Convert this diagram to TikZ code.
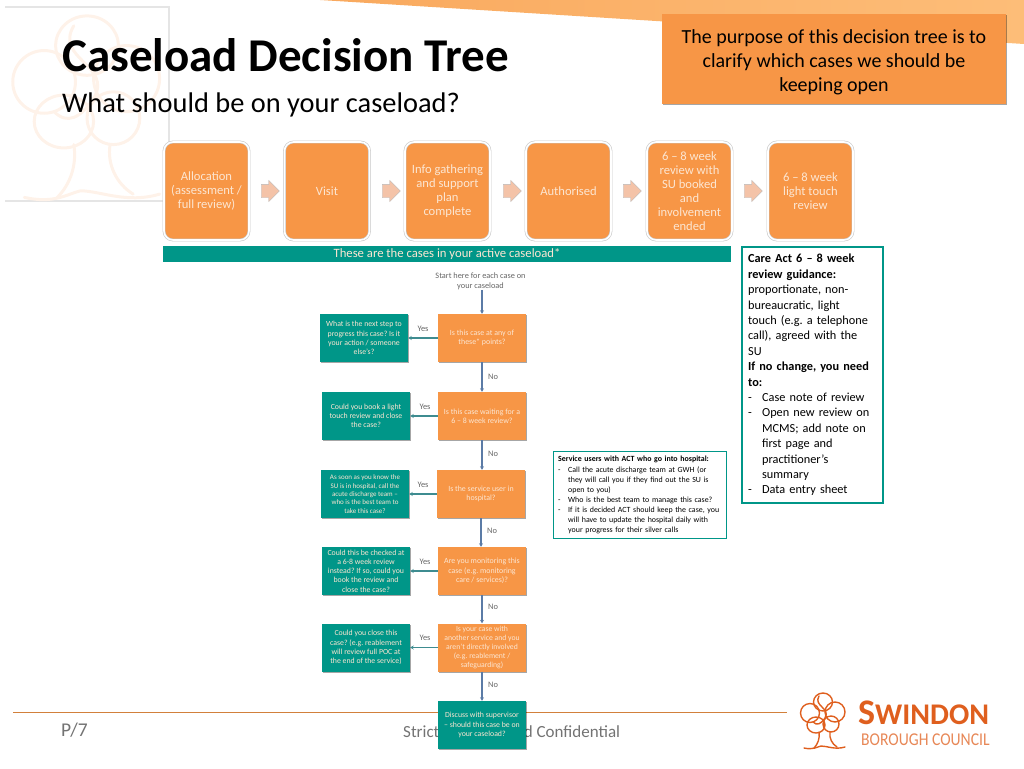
\documentclass[tikz,border=0pt]{standalone}
\usepackage{fontspec}
\setmainfont{Carlito}
\usetikzlibrary{shadows,shapes.arrows,arrows.meta}
\definecolor{caseorange}{HTML}{F79646}
\definecolor{caseteal}{HTML}{009688}
\definecolor{paletext}{HTML}{FCE6D2}
\definecolor{flowblue}{HTML}{5B7BA6}
\definecolor{flowteal}{HTML}{3E8C90}
\definecolor{logoorange}{HTML}{DF5F1E}
\definecolor{wedgeleft}{HTML}{F9A95E}
\definecolor{wedgeright}{HTML}{FDBD78}
\definecolor{stagepink}{HTML}{F4C3A8}
\tikzset{
  softshadow/.style={drop shadow={shadow xshift=1pt,shadow yshift=-1.2pt,opacity=.35,fill=black}},
  stagebox/.style={draw=black!22,line width=.6pt,double=white,double distance=1.6pt,fill=caseorange,rounded corners=9pt,minimum width=85pt,minimum height=98pt,inner sep=0pt,align=center,text=paletext,font=\fontsize{12.6}{14}\selectfont},
  stagearrow/.style={single arrow,draw=black!28,line width=.3pt,fill=stagepink,inner ysep=6.5pt,inner xsep=0pt,minimum height=18pt,single arrow head extend=4pt},
  askbox/.style={fill=caseorange,softshadow,minimum width=88pt,minimum height=48pt,inner sep=0pt,align=center,text=paletext,font=\fontsize{7.9}{9.3}\selectfont},
  actbox/.style={fill=caseteal,softshadow,minimum width=88pt,minimum height=48pt,inner sep=0pt,align=center,text=paletext,font=\fontsize{7.8}{9.3}\selectfont},
  notebox/.style={draw=caseteal,fill=white,inner sep=0pt,align=left,anchor=north west},
  noarrow/.style={draw=flowblue,line width=1.3pt,-{Stealth[length=3.5pt,width=4pt]}},
  yesarrow/.style={draw=flowteal,line width=1.1pt,-{Stealth[length=3.5pt,width=4pt]}},
  flowlabel/.style={text=black!60,font=\fontsize{8.4}{10}\selectfont,inner sep=0pt},
  caseloadtree/.pic={
    \draw (-13,-7) circle [radius=9.5]; \draw (0,-18) circle [y radius=9,x radius=9.5]; \draw (12,-8) circle [radius=10];
    \draw (-7,5) circle [y radius=8,x radius=9]; \draw (8,4) circle [y radius=8,x radius=8];
    \draw (-4,-24) .. controls (-10,-14) and (8,-12) .. (2,-2) .. controls (-2,4) and (-6,6) .. (-10,2);
    \draw (-4,12) .. controls (-3,18) and (-5,24) .. (-9,28); \draw (7,12) .. controls (6,18) and (9,24) .. (14,27);
    \draw (-19,28) .. controls (-10,30) and (-6,27) .. (-2,26) .. controls (4,26) and (12,30) .. (22,27);
  }
}
\begin{document}
\frenchspacing
\begin{tikzpicture}[x=1pt,y=-1pt]
\useasboundingbox (0,0) rectangle (1024,768);
\shade[left color=wedgeleft,right color=wedgeright] (320,0) -- (1024,44) -- (1024,0) -- cycle;

\draw[black!10,line width=1.2pt] (5,7) -- (169,7) -- (169,201) -- (5,201);
\pic[scale=3.3,line width=3pt,draw=caseorange!12,line cap=round] at (87,105) {caseloadtree};

\node[anchor=west,inner sep=0pt,font=\fontsize{47}{50}\bfseries\selectfont] (title) at (62,55) {Caseload Decision Tree};
\node[anchor=west,inner sep=0pt,font=\fontsize{28.4}{32}\selectfont] (subtitle) at (62,105) {What should be on your caseload?};
\node[fill=caseorange,softshadow,minimum width=344pt,minimum height=90pt,inner sep=0pt,align=center,font=\fontsize{20}{24}\selectfont] (purpose) at (834,59) {\rule{0pt}{21pt}The purpose of this decision tree is to\\clarify which cases we should be\\keeping open};

\node[stagebox] (alloc) at (206.5,191) {Allocation\\(assessment /\\full review)};
\node[stagebox] (visit) at (327,191) {Visit};
\node[stagebox] (info) at (447.5,191) {Info gathering\\and support\\plan\\complete};
\node[stagebox] (auth) at (568.5,191) {Authorised};
\node[stagebox] (booked) at (689.5,191) {6 -- 8 week\\review with\\SU booked\\and\\involvement\\ended};
\node[stagebox] (light) at (810.5,191) {6 -- 8 week\\light touch\\review};
\node[stagearrow] (arr1) at (267,191) {};
\node[stagearrow] (arr2) at (388,191) {};
\node[stagearrow] (arr3) at (509,191) {};
\node[stagearrow] (arr4) at (629,191) {};
\node[stagearrow] (arr5) at (750,191) {};
\node[fill=caseteal,minimum width=568pt,minimum height=16pt,inner sep=0pt,text=paletext,font=\fontsize{12.7}{14}\selectfont] (activebar) at (447,254) {These are the cases in your active caseload*};

\node[notebox,line width=2.2pt,minimum width=141pt,minimum height=256pt,text width=129pt,font=\fontsize{12.3}{15.4}\selectfont,inner xsep=6pt,inner ysep=4pt] (careact) at (741,246) {\textbf{Care Act 6 -- 8 week}\\\textbf{review guidance:}\\proportionate, non-\\bureaucratic, light\\touch (e.g. a telephone\\call), agreed with the\\SU\\\textbf{If no change, you need}\\\textbf{to:}\\\makebox[14pt][l]{-}Case note of review\\\makebox[14pt][l]{-}Open new review on\\\hspace*{14pt}MCMS; add note on\\\hspace*{14pt}first page and\\\hspace*{14pt}practitioner’s\\\hspace*{14pt}summary\\\makebox[14pt][l]{-}Data entry sheet};
\node[notebox,line width=1.4pt,minimum width=173pt,minimum height=87pt,text width=164pt,font=\fontsize{7.9}{10.1}\selectfont,inner xsep=4.5pt,inner ysep=3pt] (hospital) at (553,451) {\textbf{Service users with ACT who go into hospital:}\\\makebox[10pt][l]{-}Call the acute discharge team at GWH (or\\\hspace*{10pt}they will call you if they find out the SU is\\\hspace*{10pt}open to you)\\\makebox[10pt][l]{-}Who is the best team to manage this case?\\\makebox[10pt][l]{-}If it is decided ACT should keep the case, you\\\hspace*{10pt}will have to update the hospital daily with\\\hspace*{10pt}your progress for their silver calls};

\draw[caseorange!85!black,line width=.9pt] (13,712) -- (787,712);
\node[anchor=west,inner sep=0pt,text=black!55,font=\fontsize{19.5}{20}\selectfont] (page) at (61,730) {P/7};
\node[anchor=west,inner sep=0pt,text=black!55,font=\fontsize{17}{18}\selectfont] (strict) at (403,733) {Strictly Private and Confidential};

\node[align=center,inner sep=0pt,text=black!60,font=\fontsize{8.3}{10}\selectfont] (start) at (480.5,281) {Start here for each case on\\your caseload};
\node[askbox] (q1) at (482,338) {Is this case at any of\\these* points?};
\node[askbox] (q2) at (482,416) {Is this case waiting for a\\6 -- 8 week review?};
\node[askbox] (q3) at (481,494) {Is the service user in\\hospital?};
\node[askbox] (q4) at (482,571) {Are you monitoring this\\case (e.g. monitoring\\care / services)?};
\node[askbox,font=\fontsize{7.7}{9.2}\selectfont] (q5) at (482,647.5) {Is your case with\\another service and you\\aren't directly involved\\(e.g. reablement /\\safeguarding)};
\node[actbox] (end) at (482,725) {Discuss with supervisor\\-- should this case be on\\your caseload?};
\node[actbox] (a1) at (364,338) {What is the next step to\\progress this case? Is it\\your action / someone\\else's?};
\node[actbox] (a2) at (366,416) {Could you book a light\\touch review and close\\the case?};
\node[actbox,font=\fontsize{7}{8.3}\selectfont] (a3) at (365,494) {As soon as you know the\\SU is in hospital, call the\\acute discharge team --\\who is the best team to\\take this case?};
\node[actbox] (a4) at (366,571) {Could this be checked at\\a 6-8 week review\\instead? If so, could you\\book the review and\\close the case?};
\node[actbox] (a5) at (366,647.5) {Could you close this\\case? (e.g. reablement\\will review full POC at\\the end of the service)};

\draw[noarrow] (start.south -| q1.north) -- (q1.north);
\draw[noarrow] (q1) -- (q2); \node[flowlabel] (no1) at (493,377) {No};
\draw[noarrow] (q2.south) -- (q2.south |- q3.north); \node[flowlabel] (no2) at (493,454) {No};
\draw[noarrow] (q3.south) -- (q3.south |- q4.north); \node[flowlabel] (no3) at (492,531) {No};
\draw[noarrow] (q4) -- (q5); \node[flowlabel] (no4) at (493,607) {No};
\draw[noarrow] (q5) -- (end); \node[flowlabel] (no5) at (493,685) {No};
\draw[yesarrow] (q1) -- (a1); \node[flowlabel] (yes1) at (423,329) {Yes};
\draw[yesarrow] (q2) -- (a2); \node[flowlabel] (yes2) at (425,407) {Yes};
\draw[yesarrow] (q3) -- (a3); \node[flowlabel] (yes3) at (423,485) {Yes};
\draw[yesarrow] (q4) -- (a4); \node[flowlabel] (yes4) at (425,562) {Yes};
\draw[yesarrow] (q5) -- (a5); \node[flowlabel] (yes5) at (425,638) {Yes};

\pic[line width=1.4pt,draw=logoorange,line cap=round] at (823,720) {caseloadtree};
\node[anchor=west,inner sep=0pt,text=logoorange,font=\fontsize{36}{38}\bfseries\selectfont] (swindon) at (858,713) {S\fontsize{30}{32}\selectfont WINDON};
\node[anchor=west,inner sep=0pt,text=logoorange!75,font=\fontsize{18}{20}\selectfont] (borough) at (861,740) {\scalebox{.87}[1]{BOROUGH COUNCIL}};
\end{tikzpicture}
\end{document}
